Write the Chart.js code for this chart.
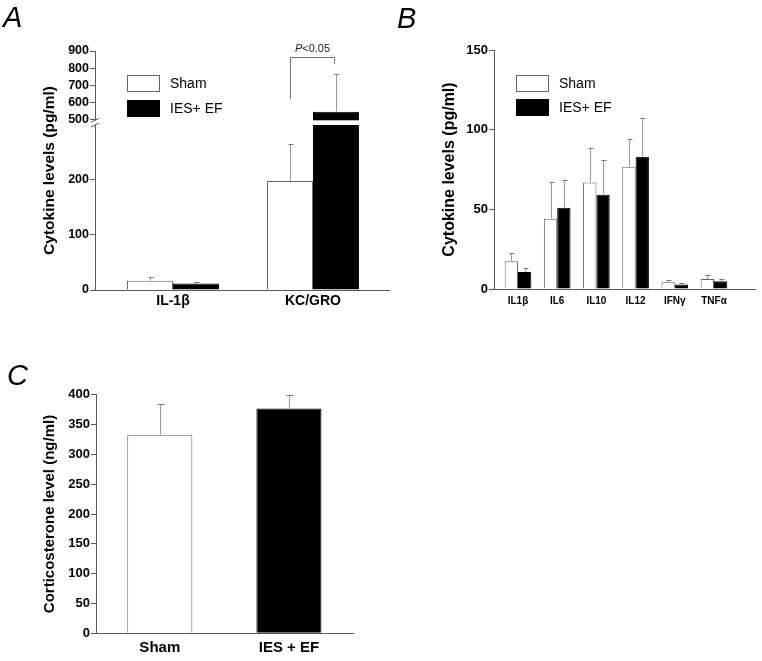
<!DOCTYPE html>
<html>
<head>
<meta charset="utf-8">
<script src="https://cdn.jsdelivr.net/npm/chart.js@4.4.1/dist/chart.umd.min.js"></script>
<style>
  body { margin: 0; background: #fff; }
  #page { position: relative; width: 762px; height: 661px; overflow: hidden; background: #fff; }
  canvas { position: absolute; }
  .panel { position: absolute; font-family: Arial, "Liberation Sans", sans-serif; font-style: italic; font-size: 29px; line-height: 29px; color: #000; }
</style>
</head>
<body>
<div id="page">
  <canvas id="chartA" width="400" height="320" style="left:0;top:0"></canvas>
  <canvas id="chartB" width="382" height="320" style="left:380px;top:0"></canvas>
  <canvas id="chartC" width="400" height="341" style="left:0;top:320px"></canvas>
  <div class="panel" style="left:3px;top:3px">A</div>
  <div class="panel" style="left:397px;top:4px">B</div>
  <div class="panel" style="left:7px;top:361px">C</div>
</div>
<script>
// panel A: cytokines, broken axis
const groupsA = ['IL-1β', 'KC/GRO'];
const shamA = [17, 198];
const shamErrA = [7, 68];
const efA = [12, 548];
const efErrA = [2, 217];
const ticksA = [0, 100, 200, 500, 600, 700, 800, 900];

// panel B: cytokine panel
const cytokinesB = ['IL1β', 'IL6', 'IL10', 'IL12', 'IFNγ', 'TNFα'];
const shamB = [17.4, 44.1, 66.9, 76.7, 4.2, 6.3];
const shamErrB = [5.2, 23, 21.6, 17.4, 1.3, 2.3];
const efB = [10.7, 51, 59.2, 83, 2.9, 4.8];
const efErrB = [2.7, 17.2, 21.5, 24.1, 0.8, 1.3];

// panel C: corticosterone
const groupsC = ['Sham', 'IES + EF'];
const corticoC = [333, 377];
const corticoErrC = [52, 23];

const seriesNames = ['Sham', 'IES+ EF'];

const FONT = 'Arial, "Liberation Sans", sans-serif';
const axisColor = '#5a5a5a';
const barEdge = '#666';
const errColor = '#9a9a9a';

Chart.defaults.font.family = FONT;
Chart.defaults.color = '#000';

// linear scale with a gap between two value ranges
class BrokenLinearScale extends Chart.LinearScale {
  toDecimal(value) {
    const b = this.options.brk;
    if (value <= b.low) return (value - this.min) / (b.low - this.min) * b.lowFrac;
    if (value >= b.high) return b.lowFrac + b.gapFrac + (value - b.high) / (this.max - b.high) * (1 - b.lowFrac - b.gapFrac);
    return b.lowFrac + (value - b.low) / (b.high - b.low) * b.gapFrac;
  }
  getPixelForValue(value) {
    if (value === null || isNaN(value)) return NaN;
    return this.getPixelForDecimal(this.toDecimal(value));
  }
  getValueForPixel(pixel) {
    const b = this.options.brk;
    const d = this.getDecimalForPixel(pixel);
    if (d <= b.lowFrac) return this.min + d / b.lowFrac * (b.low - this.min);
    const upStart = b.lowFrac + b.gapFrac;
    if (d >= upStart) return b.high + (d - upStart) / (1 - upStart) * (this.max - b.high);
    return b.low + (d - b.lowFrac) / b.gapFrac * (b.high - b.low);
  }
}
BrokenLinearScale.id = 'brokenLinear';
BrokenLinearScale.defaults = Chart.LinearScale.defaults;
Chart.register(BrokenLinearScale);

const toPoints = arr => arr.map((v, i) => ({ x: i, y: v }));

const errorBars = {
  id: 'errorBars',
  afterDatasetsDraw(chart, args, opts) {
    const ctx = chart.ctx;
    const ys = chart.scales.y;
    ctx.save();
    ctx.lineWidth = 1;
    chart.data.datasets.forEach((ds, di) => {
      const meta = chart.getDatasetMeta(di);
      meta.data.forEach((bar, i) => {
        const x = Math.round(bar.x) + 0.5;
        const top = Math.round(ys.getPixelForValue(ds.data[i].y + ds.errors[i])) + 0.5;
        ctx.strokeStyle = opts.color;
        ctx.beginPath();
        ctx.moveTo(x, bar.y);
        ctx.lineTo(x, top);
        ctx.stroke();
        ctx.strokeStyle = opts.capColor;
        ctx.beginPath();
        ctx.moveTo(x - opts.cap, top);
        ctx.lineTo(x + opts.cap + 1, top);
        ctx.stroke();
      });
    });
    ctx.restore();
  }
};

const boxLegend = {
  id: 'boxLegend',
  afterDraw(chart, args, opts) {
    if (!opts.items) return;
    const ctx = chart.ctx;
    ctx.save();
    opts.items.forEach((it, i) => {
      const y = opts.y + i * opts.step;
      ctx.fillStyle = it.fill;
      ctx.fillRect(opts.x, y, opts.w, opts.h);
      ctx.strokeStyle = it.edge;
      ctx.lineWidth = 1;
      ctx.strokeRect(opts.x + 0.5, y + 0.5, opts.w - 1, opts.h - 1);
      ctx.fillStyle = '#000';
      ctx.font = '14px ' + FONT;
      ctx.textBaseline = 'middle';
      ctx.fillText(it.text, opts.x + opts.w + 10, y + opts.h / 2 + 0.5);
    });
    ctx.restore();
  }
};

// white band + slashes over the axis break, and the significance bracket
const breakMarks = {
  id: 'breakMarks',
  afterDraw(chart, args, opts) {
    if (!opts.enabled) return;
    const ctx = chart.ctx;
    const ys = chart.scales.y;
    const b = ys.options.brk;
    const yTop = ys.getPixelForValue(b.high);
    const yBot = ys.getPixelForValue(b.low);
    const left = chart.chartArea.left;
    ctx.save();
    ctx.fillStyle = '#fff';
    ctx.fillRect(left - 1, yTop, chart.chartArea.right - left + 2, yBot - yTop);
    ctx.strokeStyle = axisColor;
    ctx.lineWidth = 1;
    [yTop, yBot].forEach(y => {
      ctx.beginPath();
      ctx.moveTo(left - 4, y + 2);
      ctx.lineTo(left + 4, y - 2);
      ctx.stroke();
    });
    // bracket
    const br = opts.bracket;
    const m0 = chart.getDatasetMeta(0).data[br.group];
    const m1 = chart.getDatasetMeta(1).data[br.group];
    const xl = Math.round(m0.x) + 0.5, xr = Math.round(m1.x) - 1.5;
    const yt = Math.round(ys.getPixelForValue(br.top)) + 0.5;
    ctx.strokeStyle = '#777';
    ctx.beginPath();
    ctx.moveTo(xl, ys.getPixelForValue(br.left));
    ctx.lineTo(xl, yt);
    ctx.lineTo(xr, yt);
    ctx.lineTo(xr, ys.getPixelForValue(br.right));
    ctx.stroke();
    ctx.fillStyle = '#222';
    ctx.textBaseline = 'alphabetic';
    ctx.font = 'italic 11px ' + FONT;
    const wP = ctx.measureText('P').width;
    ctx.font = '11px ' + FONT;
    const wR = ctx.measureText(br.rest).width;
    const cx = (xl + xr) / 2;
    const x0 = cx - (wP + wR) / 2;
    ctx.font = 'italic 11px ' + FONT;
    ctx.fillText('P', x0, yt - 6);
    ctx.font = '11px ' + FONT;
    ctx.fillText(br.rest, x0 + wP, yt - 6);
    ctx.restore();
  }
};

function xAxis(labels, min, max, height, size, pad) {
  return {
    type: 'linear', min: min, max: max, offset: false,
    afterBuildTicks: s => { s.ticks = labels.map((_, i) => ({ value: i })); },
    afterFit: s => { s.height = height; },
    grid: { display: false, drawTicks: false, offset: false },
    border: { display: true, color: axisColor, width: 1 },
    ticks: { callback: v => labels[v], autoSkip: false, maxRotation: 0, padding: pad,
             color: '#000', font: { size: size, weight: 'bold' } }
  };
}

function yAxis(title, titleSize, titlePad, width, tickSize) {
  return {
    afterFit: s => { s.width = width; },
    grid: { drawOnChartArea: false, drawTicks: true, tickLength: 5, color: axisColor, tickColor: axisColor },
    border: { display: true, color: axisColor, width: 1 },
    ticks: { padding: 1, color: '#000', font: { size: tickSize, weight: 'bold' } },
    title: { display: true, text: title, color: '#000', font: { size: titleSize, weight: 'bold' },
             padding: { top: titlePad, bottom: 0 } }
  };
}

const common = {
  responsive: false,
  animation: false,
  devicePixelRatio: 1,
  events: []
};

// ---- Panel A
const yA = yAxis('Cytokine levels (pg/ml)', 15.5, 40.7, 95, 12.5);
Object.assign(yA, {
  type: 'brokenLinear', min: 0, max: 900,
  brk: { low: 300, high: 498, lowFrac: 0.6904, gapFrac: 0.0197 },
  afterBuildTicks: s => { s.ticks = ticksA.map(v => ({ value: v })); }
});

new Chart(document.getElementById('chartA'), {
  type: 'bar',
  data: {
    datasets: [
      { label: seriesNames[0], data: toPoints(shamA), errors: shamErrA,
        backgroundColor: '#fff', borderColor: barEdge, borderWidth: 1 },
      { label: seriesNames[1], data: toPoints(efA), errors: efErrA,
        backgroundColor: '#000', borderColor: '#000', borderWidth: 1 }
    ]
  },
  options: Object.assign({}, common, {
    layout: { padding: { top: 51, right: 11, left: 0, bottom: 0 } },
    categoryPercentage: 0.657,
    barPercentage: 1,
    scales: { x: xAxis(groupsA, -0.557, 1.543, 30, 14, 3), y: yA },
    plugins: {
      legend: { display: false }, tooltip: { enabled: false },
      errorBars: { color: errColor, capColor: '#777', cap: 2 },
      boxLegend: { x: 127, y: 75, w: 33, h: 17, step: 25, items: [
        { text: seriesNames[0], fill: '#fff', edge: barEdge },
        { text: seriesNames[1], fill: '#000', edge: '#000' }] },
      breakMarks: { enabled: true, bracket: { group: 1, left: 620, right: 825, top: 867, rest: '<0.05' } }
    }
  }),
  plugins: [errorBars, boxLegend, breakMarks]
});

// ---- Panel B
const yB = yAxis('Cytokine levels (pg/ml)', 16, 60.4, 114, 13);
Object.assign(yB, { type: 'linear', min: 0, max: 150, ticks: Object.assign(yB.ticks, { stepSize: 50 }) });

new Chart(document.getElementById('chartB'), {
  type: 'bar',
  data: {
    datasets: [
      { label: seriesNames[0], data: toPoints(shamB), errors: shamErrB,
        backgroundColor: '#fff', borderColor: barEdge, borderWidth: 1 },
      { label: seriesNames[1], data: toPoints(efB), errors: efErrB,
        backgroundColor: '#000', borderColor: '#000', borderWidth: 1 }
    ]
  },
  options: Object.assign({}, common, {
    layout: { padding: { top: 50, right: 7, left: 0, bottom: 0 } },
    categoryPercentage: 0.68,
    barPercentage: 1,
    scales: { x: xAxis(cytokinesB, -0.612, 6.046, 31, 10, 6), y: yB },
    plugins: {
      legend: { display: false }, tooltip: { enabled: false },
      errorBars: { color: errColor, capColor: '#777', cap: 2 },
      boxLegend: { x: 136, y: 75, w: 33, h: 17, step: 24, items: [
        { text: seriesNames[0], fill: '#fff', edge: barEdge },
        { text: seriesNames[1], fill: '#000', edge: '#000' }] }
    }
  }),
  plugins: [errorBars, boxLegend]
});

// ---- Panel C
const yC = yAxis('Corticosterone level (ng/ml)', 15, 41, 96, 13);
Object.assign(yC, { type: 'linear', min: 0, max: 400, ticks: Object.assign(yC.ticks, { stepSize: 50 }) });

new Chart(document.getElementById('chartC'), {
  type: 'bar',
  data: {
    datasets: [
      { label: 'Corticosterone', data: toPoints(corticoC), errors: corticoErrC,
        backgroundColor: ['#fff', '#000'], borderColor: [barEdge, '#000'], borderWidth: 1 }
    ]
  },
  options: Object.assign({}, common, {
    layout: { padding: { top: 74.7, right: 47, left: 0, bottom: 0 } },
    categoryPercentage: 0.504,
    barPercentage: 1,
    scales: { x: xAxis(groupsC, -0.494, 1.496, 27.7, 15, 6), y: yC },
    plugins: {
      legend: { display: false }, tooltip: { enabled: false },
      errorBars: { color: errColor, capColor: '#777', cap: 3 }
    }
  }),
  plugins: [errorBars]
});
</script>
</body>
</html>
